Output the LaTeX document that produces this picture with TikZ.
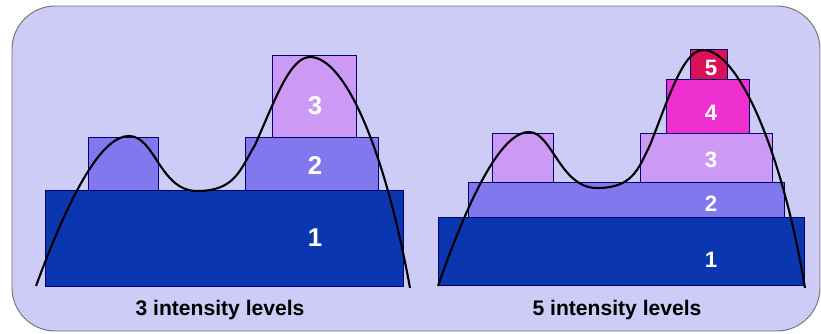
\documentclass[tikz,border=0pt]{standalone}
\usepackage{fontspec}
\setmainfont{Liberation Sans}
\usetikzlibrary{calc,positioning}
\definecolor{panelbg}{HTML}{CCCCF6}
\definecolor{levelA}{HTML}{0A36B0}
\definecolor{levelB}{HTML}{8278EE}
\definecolor{levelC}{HTML}{CC9AF4}
\definecolor{levelD}{HTML}{EE30D0}
\definecolor{levelE}{HTML}{DC1058}
\def\levelline{black!55!blue}
\def\capY{310}
\tikzset{
  lvl/.style={draw=\levelline,line width=0.5pt},
  lvlnum/.style={text=white,font=\bfseries\fontsize{22}{22}\selectfont,inner sep=0},
  lvlnumsm/.style={lvlnum,font=\bfseries\fontsize{19}{19}\selectfont},
  caption/.style={font=\bfseries\fontsize{18}{18}\selectfont,inner sep=0},
  profile/.style={line width=1.8pt,black}
}

\begin{document}
\begin{tikzpicture}[x=0.03cm,y=-0.03cm]
  \useasboundingbox (0,0) rectangle (821,333);
  \draw[fill=panelbg,draw=black!55,line width=0.8pt,rounded corners=1.3cm] (12,6) rectangle (820,331);

  % 3 levels
  \draw[lvl,fill=levelA] (45,190) rectangle (403,286);
  \draw[lvl,fill=levelB] (88,137) rectangle (158,190);
  \draw[lvl,fill=levelB] (245,137) rectangle (378,190);
  \draw[lvl,fill=levelC] (272,55) rectangle (356,137);

  \node[lvlnum] (TA-1) at (315,238) {1};
  \node[lvlnum] (TA-2) at (315,165) {2};
  \node[lvlnum] (TA-3) at (315,106) {3};

  \coordinate (TA-S) at (36,286);
  \coordinate (TA-P1) at (129,136);
  \coordinate (TA-D) at (197,191);
  \coordinate (TA-P2) at (310,57);
  \coordinate (TA-E) at (410,288);
  \draw[profile] (TA-S) .. controls (75,180) and (105,136) .. (TA-P1)
    .. controls (155,136) and (160,191) .. (TA-D)
    .. controls (235,191) and (240,170) .. (255,145)
    .. controls (275,100) and (290,57) .. (TA-P2)
    .. controls (345,57) and (385,150) .. (TA-E);

  \node[caption] (TA-text) at (220,\capY) {3 intensity levels};

  % 5 levels
  \draw[lvl,fill=levelA] (438,217) rectangle (804,285);
  \draw[lvl,fill=levelB] (468,182) rectangle (784,217);
  \draw[lvl,fill=levelC] (492,133) rectangle (553,182);
  \draw[lvl,fill=levelC] (640,133) rectangle (772,182);
  \draw[lvl,fill=levelD] (666,79) rectangle (749,133);
  \draw[lvl,fill=levelE] (690,49) rectangle (727,79);

  \node[lvlnumsm] (TB-1) at (711,260) {1};
  \node[lvlnumsm] (TB-2) at (711,204) {2};
  \node[lvlnumsm] (TB-3) at (711,160) {3};
  \node[lvlnumsm] (TB-4) at (711,113) {4};
  \node[lvlnumsm] (TB-5) at (711,68) {5};

  \coordinate (TB-S) at (438,286);
  \coordinate (TB-P1) at (529,132);
  \coordinate (TB-D) at (597,188);
  \coordinate (TB-P2) at (703,50);
  \coordinate (TB-E) at (805,288);
  \draw[profile] (TB-S) .. controls (475,180) and (505,132) .. (TB-P1)
    .. controls (552,132) and (560,188) .. (TB-D)
    .. controls (632,188) and (638,170) .. (650,145)
    .. controls (668,100) and (683,50) .. (TB-P2)
    .. controls (738,50) and (782,150) .. (TB-E);

  \node[caption] (TB-text) at (617,\capY) {5 intensity levels};
\end{tikzpicture}
\end{document}
